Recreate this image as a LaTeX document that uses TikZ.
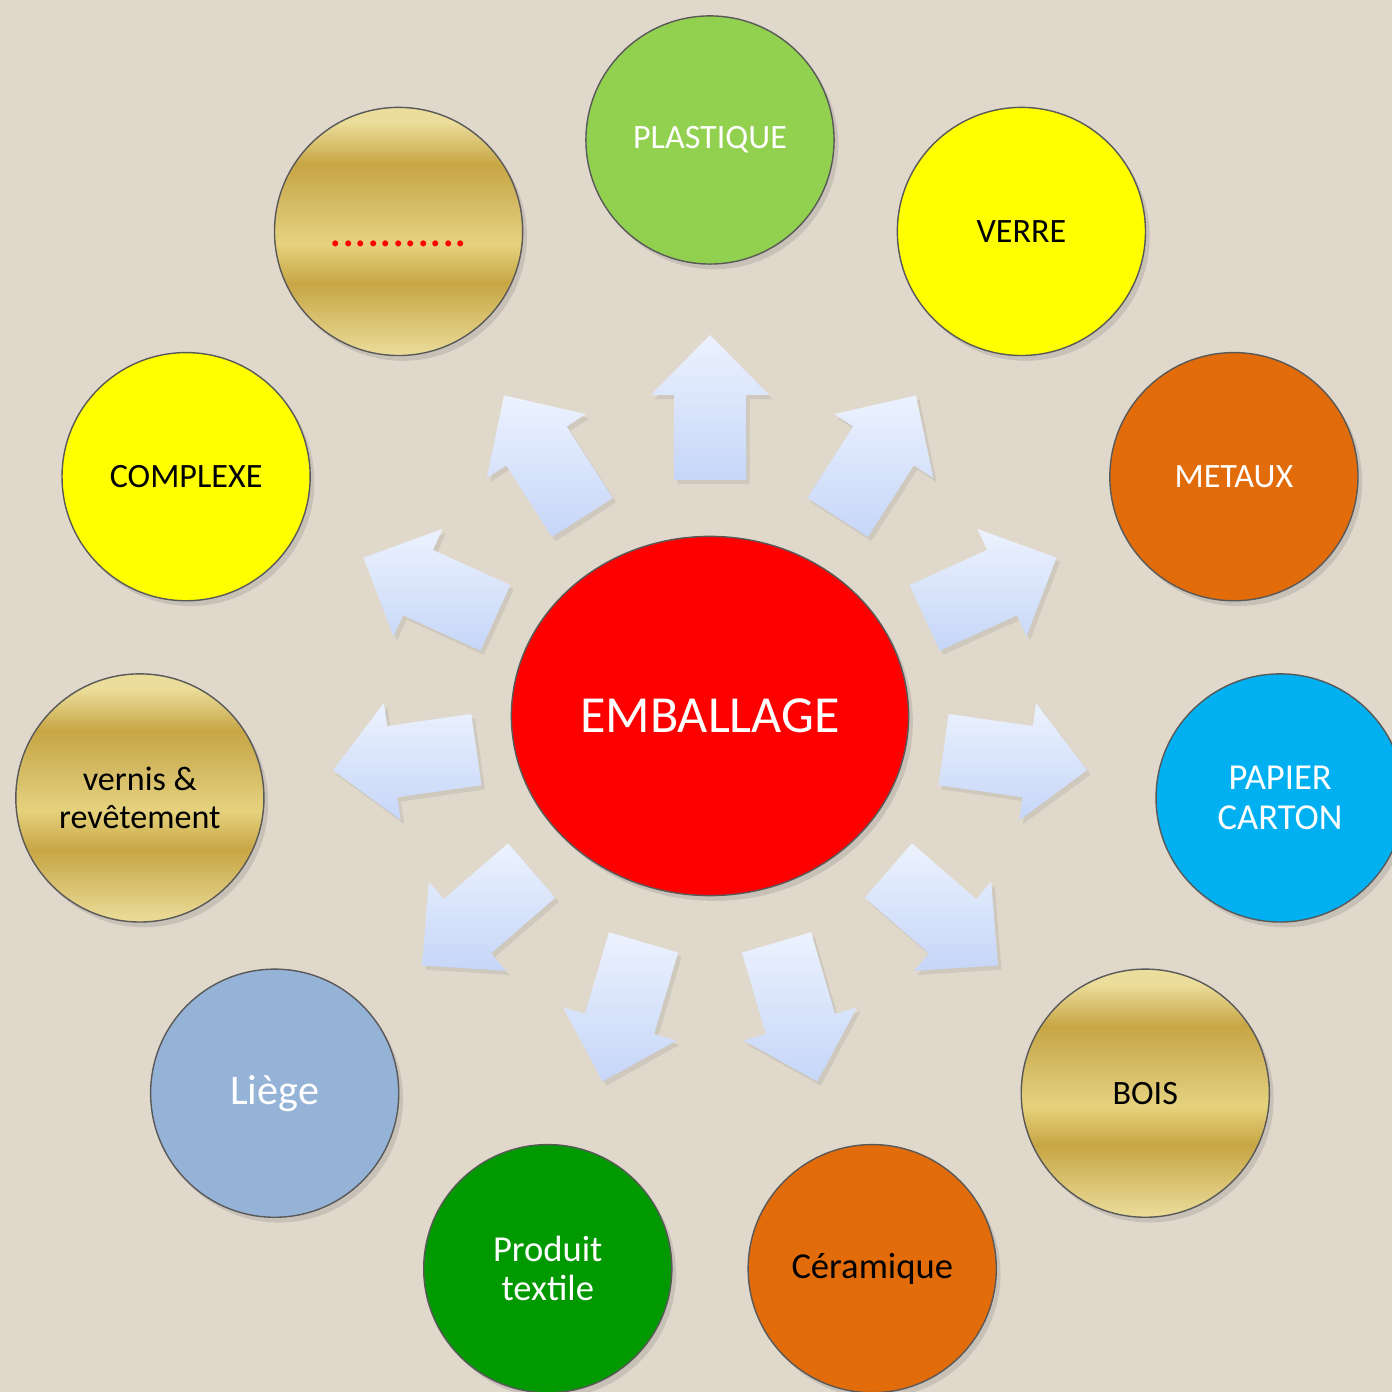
\documentclass[tikz,border=0pt]{standalone}
\usepackage{fontspec}
\setmainfont{Carlito}
\usetikzlibrary{shapes.geometric,shadows}
\definecolor{paper}{RGB}{224,216,203}
\definecolor{plastiqueGreen}{RGB}{146,208,80}
\definecolor{glassYellow}{RGB}{255,255,0}
\definecolor{metalOrange}{RGB}{227,108,10}
\definecolor{paperBlue}{RGB}{0,176,240}
\definecolor{textileGreen}{RGB}{0,153,0}
\definecolor{corkBlue}{RGB}{149,179,215}
\definecolor{goldLight}{RGB}{235,221,155}
\definecolor{goldMid}{RGB}{230,210,125}
\definecolor{goldDark}{RGB}{199,166,68}
\definecolor{arrowTop}{RGB}{236,242,254}
\definecolor{arrowBottom}{RGB}{198,214,248}
\pgfdeclareverticalshading{goldBands}{100bp}{color(0bp)=(goldLight); color(25bp)=(goldLight); color(39.5bp)=(goldDark); color(47.5bp)=(goldMid); color(55bp)=(goldDark!60!goldLight); color(63.5bp)=(goldDark); color(72bp)=(goldLight); color(100bp)=(goldLight)}
\tikzset{
    matCircle/.style={circle, minimum size=2.48cm, inner sep=0pt, draw=black!65, thin, align=center,
		font=\fontsize{9.7}{11}\selectfont,
		drop shadow={opacity=0.25, shadow xshift=1.2pt, shadow yshift=-1.5pt}},
    goldCircle/.style={matCircle, shading=goldBands},
    wideText/.style={font=\fontsize{10.4}{11.2}\selectfont}
}
\tikzset{
    radArrow/.pic={
		\shade[top color=arrowTop, bottom color=arrowBottom,
			drop shadow={opacity=0.18, shadow xshift=1pt, shadow yshift=-1.2pt}]
			(-72,-36) -- (13,-36) -- (13,-59) -- (73,0) -- (13,59) -- (13,36) -- (-72,36) -- cycle;
	}
}
\begin{document}
\begin{tikzpicture}[x=0.01cm, y=0.01cm]
		\useasboundingbox (-710,-676) rectangle (682,716);
		\clip (-710,-676) rectangle (682,716);
		\fill[paper] (-710,-676) rectangle (682,716);

		\pic[rotate=90] at (90:308) {radArrow};
		\pic[rotate=57.27] at (57.27:308) {radArrow};
		\pic[rotate=24.55] at (24.55:308) {radArrow};
		\pic[rotate=-8.18] at (-8.18:308) {radArrow};
		\pic[rotate=-40.91] at (-40.91:308) {radArrow};
		\pic[rotate=-73.64] at (-73.64:308) {radArrow};
		\pic[rotate=-106.36] at (-106.36:308) {radArrow};
		\pic[rotate=-139.09] at (-139.09:308) {radArrow};
		\pic[rotate=-171.82] at (-171.82:308) {radArrow};
		\pic[rotate=155.45] at (155.45:308) {radArrow};
		\pic[rotate=122.73] at (122.73:308) {radArrow};

		\node[matCircle, fill=plastiqueGreen, text=white] (plastique) at (90:576) {PLASTIQUE};
		\node[matCircle, fill=glassYellow] (verre) at (57.27:576) {VERRE};
		\node[matCircle, fill=metalOrange, text=white] (metaux) at (24.55:576) {METAUX};
		\node[matCircle, fill=paperBlue, text=white, wideText] (papier) at (-8.18:576) {PAPIER\\CARTON};
		\node[goldCircle] (bois) at (-40.91:576) {BOIS};
		\node[matCircle, fill=metalOrange, wideText] (ceramique) at (-73.64:576) {Céramique};
		\node[matCircle, fill=textileGreen, text=white, wideText] (textile) at (-106.36:576) {Produit\\textile};
		\node[matCircle, fill=corkBlue, text=white, font=\fontsize{12}{14}\selectfont] (liege) at (-139.09:576) {Liège};
		\node[goldCircle] (vernis) at (-171.82:576) {vernis \&\\revêtement};
		\node[matCircle, fill=glassYellow] (complexe) at (155.45:576) {COMPLEXE};
		\node[goldCircle, text=red, font=\fontsize{14.1}{16}\selectfont, text height=8.6pt, text depth=0pt] (autre) at (122.73:576) {...........};

		\node[ellipse, minimum width=3.97cm, minimum height=3.59cm, inner sep=0pt, fill=red, draw=black!65, thin,
			text=white, font=\fontsize{14.8}{17}\selectfont,
			drop shadow={opacity=0.25, shadow xshift=1.2pt, shadow yshift=-1.5pt}] (emballage) at (0,0) {EMBALLAGE};
\end{tikzpicture}
\end{document}
